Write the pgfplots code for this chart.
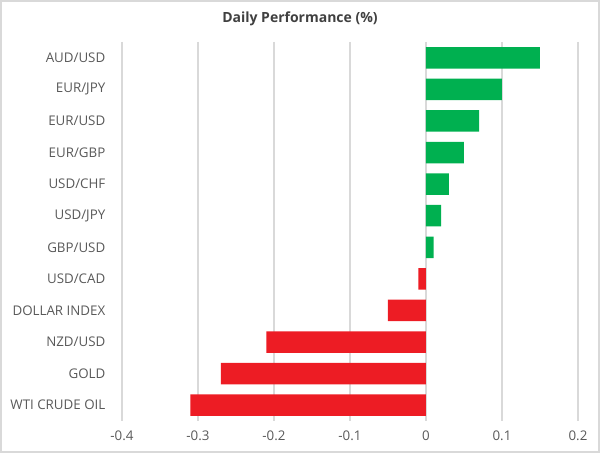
\documentclass[border=0pt]{standalone}
\usepackage{pgfplots}
\pgfplotsset{compat=1.18}
\usepackage{fontspec}
\setmainfont{Open Sans}
\definecolor{posgreen}{HTML}{00B050}
\definecolor{negred}{HTML}{ED1C24}
\definecolor{gridgray}{HTML}{D9D9D9}
\definecolor{labelgray}{HTML}{595959}
\begin{document}
\begin{tikzpicture}[x=0.75pt,y=0.75pt]
% outer frame of the chart, 600 x 453 px
\draw[gridgray, line width=1.2pt] (0.8,0.8) rectangle (599.2,452.2);
\node[font=\bfseries\fontsize{10.5}{12}\selectfont, text=black!75] at (300,434) {Daily Performance (\%)};
\begin{axis}[
at={(122*0.75pt,32*0.75pt)}, anchor=south west,
scale only axis,
width=342pt, height=284.25pt,
xbar, bar shift=0pt, bar width=0.68,
xmin=-0.4, xmax=0.2,
ymin=-0.5, ymax=11.5,
y dir=reverse,
xtick={-0.4,-0.3,...,0.2},
xticklabels={-0.4,-0.3,-0.2,-0.1,0,0.1,0.2},
ytick={0,...,11},
yticklabels={AUD/USD,EUR/JPY,EUR/USD,EUR/GBP,USD/CHF,USD/JPY,GBP/USD,USD/CAD,DOLLAR INDEX,NZD/USD,GOLD,WTI CRUDE OIL},
axis line style={draw=none},
major tick length=0pt,
xmajorgrids, grid style={gridgray, line width=0.8pt},
ymajorgrids=false,
tick label style={font=\fontsize{10}{11}\selectfont, text=labelgray},
xticklabel style={yshift=-4pt},
yticklabel style={xshift=-9pt},
]
\addplot[fill=posgreen, draw=none] coordinates {
(0.15,0) (0.10,1) (0.07,2) (0.05,3) (0.03,4) (0.02,5) (0.01,6)
};
\addplot[fill=negred, draw=none] coordinates {
(-0.01,7) (-0.05,8) (-0.21,9) (-0.27,10) (-0.31,11)
};
\end{axis}
\end{tikzpicture}
\end{document}
